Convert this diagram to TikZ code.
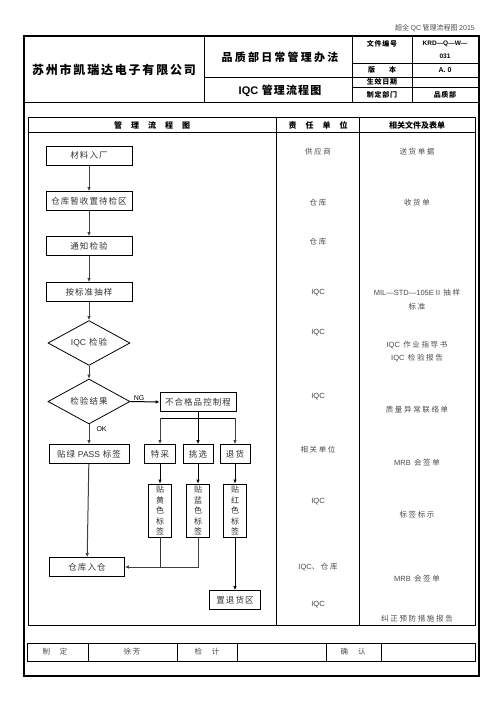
\documentclass[tikz,border=0pt]{standalone}
\usepackage{fontspec}
\setmainfont{Noto Sans CJK SC}
\newfontfamily\cjkls{Noto Sans CJK SC}[LetterSpace=12]
\newfontfamily\cjkwide{Noto Sans CJK SC}[LetterSpace=22]
\newfontfamily\latin{Liberation Sans}
\usetikzlibrary{shapes.geometric,arrows.meta}
\newcommand{\gap}{\hspace{9pt}}
\begin{document}
\begin{tikzpicture}[x=1pt,y=-1pt,
  every node/.style={inner sep=0pt, text=black!80},
  box/.style={draw=black, line width=0.8pt, minimum height=19pt, font=\cjkls\fontsize{8.5}{10}\selectfont},
  dia/.style={draw=black, line width=0.8pt, diamond, minimum width=82pt, minimum height=32pt, font=\cjkls\fontsize{8.5}{10}\selectfont},
  vbox/.style={draw=black, line width=0.8pt, minimum width=23pt, minimum height=53pt, align=center, font=\fontsize{8}{10.6}\selectfont},
  arr/.style={line width=1pt, draw=black!75, -{Latex[length=4pt,width=3.5pt]}},
  ln/.style={line width=1pt, draw=black!80},
  tbl/.style={line width=0.8pt, draw=black},
  col/.style={font=\cjkwide\fontsize{7.5}{9}\selectfont, text=black!70},
  lat/.style={font=\latin\fontsize{7.5}{9}\selectfont, text=black!75},
  hdr/.style={font=\bfseries\fontsize{8}{9}\selectfont, text=black}
]
\useasboundingbox (0,0) rectangle (496,702);
\fill[white] (0,0) rectangle (496,702);

% top note
\node[anchor=east, font=\fontsize{7}{8}\selectfont, text=black!70] (note) at (475,28) {超全 {\latin QC} 管理流程图 {\latin 2015}};

% outer frame
\draw[line width=2pt] (23.5,36) rectangle (478.5,676);

% header table
\draw[tbl] (23.5,102.5) -- (478.5,102.5);
\draw[tbl] (204,36) -- (204,102.5);
\draw[tbl] (352,36) -- (352,102.5);
\draw[tbl] (412,36) -- (412,102.5);
\draw[tbl] (204,77) -- (478.5,77);
\draw[tbl] (352,63) -- (478.5,63);
\draw[tbl] (352,87) -- (478.5,87);

\node[font=\bfseries\fontsize{12}{14}\selectfont\addfontfeatures{LetterSpace=15}, text=black] (co) at (114,70) {苏州市凯瑞达电子有限公司};
\node[font=\bfseries\fontsize{11}{13}\selectfont\addfontfeatures{LetterSpace=20}, text=black] (t1) at (280,57) {品质部日常管理办法};
\node[font=\bfseries\fontsize{11}{13}\selectfont\addfontfeatures{LetterSpace=10}, text=black] (t2) at (280,91) {{\latin\bfseries IQC} 管理流程图};
\node[font=\bfseries\fontsize{7}{8}\selectfont\addfontfeatures{LetterSpace=10}, text=black] (h1) at (382,44) {文件编号};
\node[font=\bfseries\fontsize{7}{8}\selectfont, text=black] (h2) at (382,70) {版\hspace{14pt}本};
\node[font=\bfseries\fontsize{7}{8}\selectfont\addfontfeatures{LetterSpace=10}, text=black] (h3) at (382,82) {生效日期};
\node[font=\bfseries\fontsize{7}{8}\selectfont\addfontfeatures{LetterSpace=10}, text=black] (h4) at (382,95) {制定部门};
\node[font=\latin\bfseries\fontsize{6.5}{8}\selectfont, text=black] (v1) at (445,44) {KRD—Q—W—};
\node[font=\latin\bfseries\fontsize{6.5}{8}\selectfont, text=black] (v1b) at (445,56) {031};
\node[font=\latin\bfseries\fontsize{7}{8}\selectfont, text=black] (v2) at (445,70) {A. 0};
\node[font=\bfseries\fontsize{7}{8}\selectfont\addfontfeatures{LetterSpace=10}, text=black] (v4) at (445,95) {品质部};

% inner table
\draw[tbl] (28,117) rectangle (475,625);
\draw[tbl] (28,132) -- (475,132);
\draw[tbl] (276,117) -- (276,625);
\draw[tbl] (359,117) -- (359,625);
\node[hdr] (c1) at (152,125) {管\gap 理\gap 流\gap 程\gap 图};
\node[hdr] (c2) at (318,125) {责\gap 任\gap 单\gap 位};
\node[hdr] (c3) at (417,125) {相关文件及表单};

% footer table
\draw[tbl] (27,643) rectangle (475,661);
\foreach \x in {88,177,237,326,381} \draw[tbl] (\x,643) -- (\x,661);
\node[col] (f1) at (55,652) {制\hspace{10pt}定};
\node[col] (f2) at (132,652) {徐芳};
\node[col] (f3) at (207,652) {检\hspace{10pt}计};
\node[col] (f4) at (353,652) {确\hspace{10pt}认};

% flow nodes
\node[box, minimum width=86pt] (n1) at (89,155.5) {材料入厂};
\node[box, minimum width=86pt] (n2) at (89,201) {仓库暂收置待检区};
\node[box, minimum width=86pt] (n3) at (89,246) {通知检验};
\node[box, minimum width=86pt] (n4) at (89,292) {按标准抽样};
\node[dia] (d1) at (89,343) {{\latin IQC} 检验};
\node[dia] (d2) at (89,401.5) {检验结果};
\node[box, minimum width=76pt] (ctrl) at (198,402) {不合格品控制程};
\node[box, minimum width=80pt] (pass) at (89,454) {贴绿 {\latin PASS} 标签};
\node[box, minimum width=31pt] (tc) at (160,454) {特采};
\node[box, minimum width=30pt] (tx) at (198,454) {挑选};
\node[box, minimum width=30pt] (th) at (235,454) {退货};
\node[vbox] (yel) at (160,510.5) {贴\\黄\\色\\标\\签};
\node[vbox] (blu) at (198,510.5) {贴\\蓝\\色\\标\\签};
\node[vbox] (red) at (235,510.5) {贴\\红\\色\\标\\签};
\node[box, minimum width=75pt] (store) at (87,567) {仓库入仓};
\node[box, minimum width=51pt] (zone) at (235,600) {置退货区};

% connectors
\draw[arr] (n1) -- (n2);
\draw[arr] (n2) -- (n3);
\draw[arr] (n3) -- (n4);
\draw[arr] (n4) -- (d1);
\draw[arr] (d1) -- (d2);
\draw[arr, draw=black] (d2.east) -- (ctrl.west) node[pos=0.3, above=1pt, font=\latin\fontsize{7}{8}\selectfont, text=black] {NG};
\draw[arr] (d2.south) -- (pass.north) node[pos=0.22, right=7pt, font=\latin\fontsize{7}{8}\selectfont, text=black] {OK};
\coordinate (br) at (198,418);
\draw[ln, draw=black] (tc.north |- br) -- (th.north |- br);
\draw[arr] (tc.north |- br) -- (tc.north);
\draw[arr, draw=black] (ctrl.south) -- (tx.north);
\draw[arr] (th.north |- br) -- (th.north);
\draw[arr, draw=black] (tc) -- (yel);
\draw[arr, draw=black] (tx) -- (blu);
\draw[arr, draw=black] (th) -- (red);
\draw[arr] (pass) -- (store);
\draw[ln] (yel.south) -- (yel.south |- store.east);
\draw[arr] (blu.south) |- (store.east);
\draw[arr, draw=black] (red) -- (zone);

% responsibility column
\node[col] (r1) at (318,152) {供应商};
\node[col] (r2) at (318,203) {仓库};
\node[col] (r3) at (318,242) {仓库};
\node[lat] (r4) at (318,293) {IQC};
\node[lat] (r5) at (318,333) {IQC};
\node[lat] (r6) at (318,397) {IQC};
\node[col] (r7) at (318,450) {相关单位};
\node[lat] (r8) at (318,502) {IQC};
\node[col] (r9) at (318,567) {{\latin IQC}、仓库};
\node[lat] (r10) at (318,605) {IQC};

% documents column
\node[col] (s1) at (417,152) {送货单据};
\node[col] (s2) at (417,203) {收货单};
\node[col, align=center, font=\cjkwide\fontsize{7.5}{14}\selectfont] (s3) at (417,300) {{\latin MIL—STD—105E II} 抽样\\标准};
\node[col, align=center, font=\cjkwide\fontsize{7.5}{13}\selectfont] (s4) at (417,351.5) {{\latin IQC} 作业指导书\\{\latin IQC} 检验报告};
\node[col] (s5) at (417,410) {质量异常联络单};
\node[col] (s6) at (417,463) {{\latin MRB} 会签单};
\node[col] (s7) at (417,515) {标签标示};
\node[col] (s8) at (417,579) {{\latin MRB} 会签单};
\node[col] (s9) at (417,619) {纠正预防措施报告};
\end{tikzpicture}
\end{document}
